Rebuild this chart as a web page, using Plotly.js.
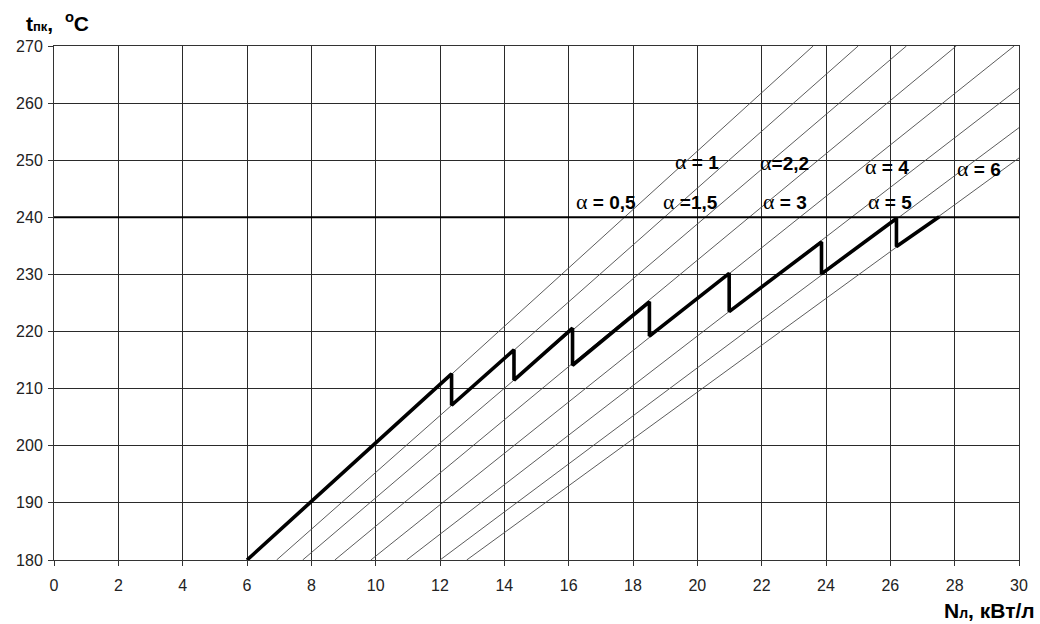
<!DOCTYPE html>
<html>
<head>
<meta charset="utf-8">
<script src="https://cdn.plot.ly/plotly-3.0.1.min.js"></script>
<style>html,body{margin:0;padding:0;background:#fff;}#chart{width:1040px;height:624px;}</style>
</head>
<body>
<div id="chart"></div>
<script>
// ---- data ----
const alphaLabels = ['α = 0,5', 'α = 1', 'α =1,5', 'α=2,2', 'α = 3', 'α = 4', 'α = 5', 'α = 6'];
const lineStartN = [6.0, 6.92, 7.73, 8.73, 9.85, 10.96, 12.0, 12.83];
const lineStartT = [180, 180, 180, 180, 180, 180, 180, 180];
const lineEndN   = [23.6, 25.0, 26.5, 28.05, 29.85, 30, 30, 30];
const lineEndT   = [270, 270, 270, 270, 270, 262.6, 255.7, 250.4];

const labelN = [17.16, 20.0, 19.80, 22.71, 22.72, 25.91, 25.99, 28.75];
const labelT = [242.7, 249.7, 242.7, 249.6, 242.7, 248.9, 242.7, 248.6];

const sawN = [6.0, 12.36, 12.36, 14.30, 14.30, 16.12, 16.12, 18.51, 18.51, 20.99, 20.99, 23.86, 23.86, 26.19, 26.19, 27.52];
const sawT = [180, 212.6, 207.1, 216.8, 211.5, 220.6, 214.1, 225.2, 219.2, 230.2, 223.5, 235.7, 230.1, 239.8, 234.9, 240.1];

const limitT = 240;
const xRange = [0, 30];
const yRange = [180, 270];

// ---- traces ----
const traces = [];
for (let i = 0; i < alphaLabels.length; i++) {
  traces.push({
    x: [lineStartN[i], lineEndN[i]],
    y: [lineStartT[i], lineEndT[i]],
    mode: 'lines',
    line: {color: '#4a4a4a', width: 0.9},
    hoverinfo: 'skip',
    showlegend: false
  });
}
traces.push({
  x: xRange, y: [limitT, limitT], mode: 'lines',
  line: {color: '#000', width: 2}, hoverinfo: 'skip', showlegend: false
});
traces.push({
  x: sawN, y: sawT, mode: 'lines',
  line: {color: '#000', width: 3.6}, hoverinfo: 'skip', showlegend: false
});

const annotations = alphaLabels.map((t, i) => ({
  x: labelN[i], y: labelT[i], xref: 'x', yref: 'y',
  text: t.replace('α', '<span style="font-family:Liberation Serif;font-weight:normal;font-size:22px">α</span>'),
  showarrow: false,
  font: {family: 'Liberation Sans, Arial, sans-serif', size: 19, color: '#000', weight: 'bold'},
  xanchor: 'center', yanchor: 'middle'
}));

annotations.push({
  xref: 'paper', yref: 'paper', x: -0.031, y: 1.047,
  xanchor: 'left', yanchor: 'middle', showarrow: false,
  text: 't<span style="font-size:13px">пк</span>,  <sup>o</sup>C',
  font: {family: 'Liberation Sans, Arial, sans-serif', size: 21, color: '#000', weight: 'bold'}
});
annotations.push({
  xref: 'paper', yref: 'paper', x: 1.0187, y: -0.098,
  xanchor: 'right', yanchor: 'middle', showarrow: false,
  text: 'N<span style="font-size:14px">л</span>, кВт/л',
  font: {family: 'Liberation Sans, Arial, sans-serif', size: 21, color: '#000', weight: 'bold'}
});

const layout = {
  width: 1040, height: 624,
  margin: {l: 54, r: 21, t: 46, b: 64, pad: 0},
  paper_bgcolor: '#fff', plot_bgcolor: '#fff',
  showlegend: false,
  font: {family: 'Liberation Sans, Arial, sans-serif', size: 16, color: '#222'},
  xaxis: {
    range: xRange, dtick: 2, tick0: 0, autorange: false,
    showgrid: true, gridcolor: '#2a2a2a', gridwidth: 1,
    zeroline: false, showline: true, linecolor: '#333', linewidth: 1, mirror: true,
    ticks: 'outside', ticklen: 5, tickcolor: '#333', tickwidth: 1,
    ticklabelstandoff: 6,
    tickfont: {size: 16, color: '#222'}
  },
  yaxis: {
    range: yRange, dtick: 10, tick0: 180, autorange: false,
    showgrid: true, gridcolor: '#2a2a2a', gridwidth: 1,
    zeroline: false, showline: true, linecolor: '#333', linewidth: 1, mirror: true,
    ticks: 'outside', ticklen: 5, tickcolor: '#333', tickwidth: 1,
    ticklabelstandoff: 2,
    tickfont: {size: 16, color: '#222'}
  },
  annotations: annotations
};

Plotly.newPlot('chart', traces, layout, {staticPlot: true, displayModeBar: false});
</script>
</body>
</html>
